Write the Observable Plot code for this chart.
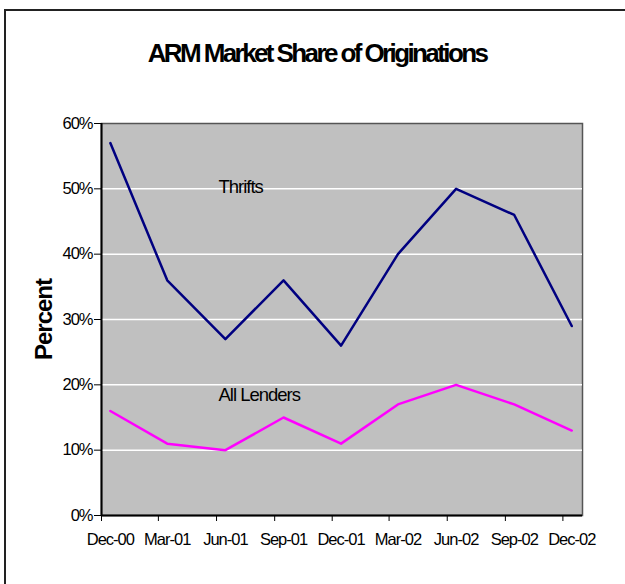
<!DOCTYPE html>
<html>
<head>
<meta charset="utf-8">
<script src="https://cdn.jsdelivr.net/npm/d3@7"></script>
<script src="https://cdn.jsdelivr.net/npm/@observablehq/plot@0.6"></script>
<style>
  html, body { margin: 0; padding: 0; background: #fff; }
  #wrap { position: relative; width: 625px; height: 584px; overflow: hidden; font-family: "Liberation Sans", Arial, sans-serif; }
  #border { position: absolute; left: 4px; top: 9px; width: 700px; height: 700px; border-left: 2px solid #222; border-top: 2px solid #222; box-sizing: border-box; }
  #title { position: absolute; left: 0; top: 40px; width: 634px; text-align: center; font-weight: bold; font-size: 26px; line-height: 26px; letter-spacing: -2.6px; color: #000; white-space: nowrap; }
  #chart { position: absolute; left: 0; top: 0; }
</style>
</head>
<body>
<div id="wrap">
  <div id="border"></div>
  <div id="title">ARM Market Share of Originations</div>
  <div id="chart"></div>
</div>
<script>
const categories = ["Dec-00", "Mar-01", "Jun-01", "Sep-01", "Dec-01", "Mar-02", "Jun-02", "Sep-02", "Dec-02"];
const thrifts = [57, 36, 27, 36, 26, 40, 50, 46, 29];
const allLenders = [16, 11, 10, 15, 11, 17, 20, 17, 13];
const yTicks = [0, 10, 20, 30, 40, 50, 60];
const gridTicks = [10, 20, 30, 40, 50];
const seriesNames = ["Thrifts", "All Lenders"];
const seriesColors = ["#000080", "#FF00FF"];

const parse = d3.utcParse("%b-%y");
const starts = categories.map(parse);
const mids = starts.map(d => d3.utcDay.offset(d, 14));
const labelOf = new Map(mids.map((d, i) => [+d, categories[i]]));

const rows = [];
categories.forEach((c, i) => {
  rows.push({series: seriesNames[0], date: mids[i], value: thrifts[i]});
  rows.push({series: seriesNames[1], date: mids[i], value: allLenders[i]});
});

const annotations = [
  {text: "Thrifts", date: new Date(Date.UTC(2001, 5, 4)), value: 50.3},
  {text: "All Lenders", date: new Date(Date.UTC(2001, 5, 4)), value: 18.4}
];

const xDomain = [starts[0], d3.utcMonth.offset(starts[starts.length - 1], 1)];

const chart = Plot.plot({
  width: 625,
  height: 584,
  marginLeft: 101,
  marginRight: 43,
  marginTop: 123,
  marginBottom: 69,
  style: {fontFamily: "'Liberation Sans', Arial, sans-serif", fontSize: "16.5px", letterSpacing: "-1px", color: "#000", background: "transparent", overflow: "visible"},
  x: {type: "utc", domain: xDomain},
  y: {domain: [0, 60]},
  color: {domain: seriesNames, range: seriesColors},
  marks: [
    Plot.frame({fill: "#C0C0C0", stroke: "#555", strokeWidth: 1.5}),
    Plot.gridY(gridTicks, {stroke: "#fff", strokeOpacity: 1, strokeWidth: 1.5}),
    Plot.ruleY([0], {stroke: "#000", strokeWidth: 2}),
    Plot.ruleX([xDomain[0]], {stroke: "#000", strokeWidth: 2}),
    Plot.axisY({ticks: yTicks, tickFormat: d => d + "%", tickSize: 7, tickPadding: 2, label: null, stroke: "#000", fontSize: 16.5}),
    Plot.axisX({ticks: starts, tickFormat: () => "", tickSize: 6, label: null, stroke: "#000"}),
    Plot.axisX({ticks: mids, tickFormat: d => labelOf.get(+d), tickSize: 0, tickPadding: 18, label: null, fontSize: 16.5}),
    Plot.line(rows, {x: "date", y: "value", z: "series", stroke: "series", strokeWidth: 2.5}),
    Plot.text(annotations, {x: "date", y: "value", text: "text", textAnchor: "start", fontSize: 18.5, fill: "#000"}),
    Plot.text(["Percent"], {frameAnchor: "left", textAnchor: "middle", rotate: -90, dx: -57, fontSize: 24, fontWeight: "bold", fill: "#000"})
  ]
});
document.getElementById("chart").appendChild(chart);
</script>
</body>
</html>
